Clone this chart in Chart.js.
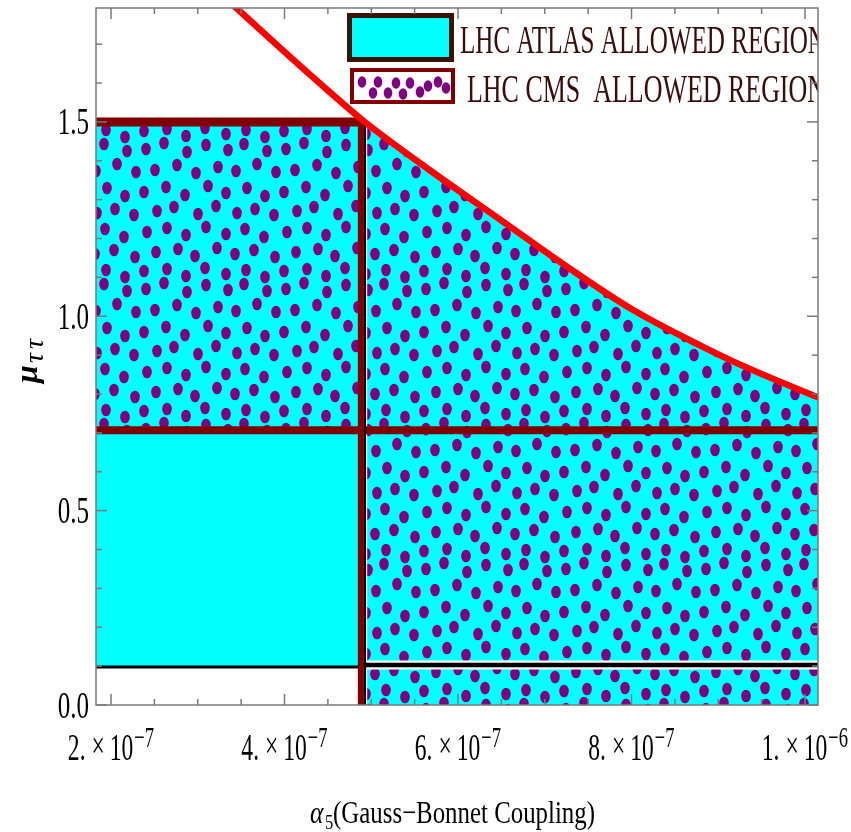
<!DOCTYPE html>
<html>
<head>
<meta charset="utf-8">
<script src="https://cdn.jsdelivr.net/npm/chart.js@4.4.0/dist/chart.umd.min.js"></script>
<style>
  html, body { margin: 0; padding: 0; background: #fff; }
  #wrap { position: relative; width: 851px; height: 832px; }
</style>
</head>
<body>
<div id="wrap"><canvas id="c"></canvas></div>
<script>
// axis ranges
var xMin = 1.827e-7, xMax = 1.015e-6;
var muMin = 0, muMax = 1.793;

// ticks
var xMajor = [2e-7, 4e-7, 6e-7, 8e-7, 1e-6];
var xMantissa = ['2.', '4.', '6.', '8.', '1.'];
var xExponent = ['\u22127', '\u22127', '\u22127', '\u22127', '\u22126'];
var xMinor = [2.5e-7, 3e-7, 3.5e-7, 4.5e-7, 5e-7, 5.5e-7, 6.5e-7, 7e-7, 7.5e-7, 8.5e-7, 9e-7, 9.5e-7];
var muMajor = [0, 0.5, 1.0, 1.5];
var muLabels = ['0.0', '0.5', '1.0', '1.5'];
var muMinor = [0.1, 0.2, 0.3, 0.4, 0.6, 0.7, 0.8, 0.9, 1.1, 1.2, 1.3, 1.4, 1.6, 1.7];

// region edges
var boundX = 4.88e-7;       // dark red edge of the left box
var boundBlackX = 4.926e-7; // black edge of the right region
var gapX = 4.943e-7;        // thin white gap
var atlasTop = 1.5;
var cmsLow = 0.707;
var lowCutLeft = 0.098;
var lowCutRight = 0.103;

// upper bound curve (red)
var curveX = [3.30e-7, 3.43e-7, 4.00e-7, 4.53e-7, 4.907e-7, 5.68e-7, 6.49e-7, 7.26e-7, 8.02e-7, 8.79e-7, 9.17e-7, 1.009e-6, 1.016e-6];
var curveMu = [1.823, 1.796, 1.680, 1.575, 1.503, 1.375, 1.248, 1.127, 1.016, 0.925, 0.884, 0.797, 0.791];

var legendText = ['LHC ATLAS ALLOWED REGION', 'LHC CMS  ALLOWED REGION'];

var CYAN = '#00ffff', PURPLE = '#800080', DARKRED = '#800000';

var curvePts = curveX.map(function (x, i) { return { x: x, y: curveMu[i] }; });
var rightPts = curvePts.filter(function (p) { return p.x >= boundX; });

// dotted texture for the CMS region (140px tile)
var dotSpots = [
    [6,9],[24,3],[47,12],[66,5],[88,10],[104,4],[127,11],
    [15,30],[37,25],[56,33],[78,27],[96,31],[117,24],[136,32],
    [4,52],[26,47],[45,55],[68,46],[86,53],[107,48],[125,56],
    [17,71],[34,67],[58,74],[76,66],[97,73],[115,69],[134,75],
    [7,92],[27,88],[46,95],[66,87],[86,94],[105,89],[124,97],
    [16,112],[38,109],[55,116],[77,108],[95,114],[114,110],[135,117],
    [4,131],[27,129],[46,136],[65,128],[86,134],[106,130],[125,137]
];
function makeDots() {
    var n = 140;
    var t = document.createElement('canvas');
    t.width = n; t.height = n;
    var g = t.getContext('2d');
    g.fillStyle = CYAN;
    g.fillRect(0, 0, n, n);
    g.fillStyle = PURPLE;
    dotSpots.forEach(function (d) {
        for (var ox = -n; ox <= n; ox += n)
            for (var oy = -n; oy <= n; oy += n) {
                g.beginPath();
                g.ellipse(d[0] + ox, d[1] + oy, 4.8, 6.3, 0, 0, Math.PI * 2);
                g.fill();
            }
    });
    return g.createPattern(t, 'repeat');
}
var dots = makeDots();

function seg(x0, y0, x1, y1) { return [{ x: x0, y: y0 }, { x: x1, y: y1 }]; }

// squashed serif text, like the original export
function sq(ctx, str, x, y, size, style, sx) {
    ctx.font = style + ' ' + size + 'px "Liberation Serif"';
    var w = ctx.measureText(str).width * sx;
    ctx.save();
    ctx.translate(x, y);
    ctx.scale(sx, 1);
    ctx.fillText(str, 0, 0);
    ctx.restore();
    return w;
}
function natural(ctx, str, size, style) {
    ctx.font = style + ' ' + size + 'px "Liberation Serif"';
    return ctx.measureText(str).width;
}

var framePlugin = {
    id: 'mmaFrame',
    afterDraw: function (chart) {
        var ctx = chart.ctx, a = chart.chartArea;
        var xs = chart.scales.x, ys = chart.scales.y;
        ctx.save();
        ctx.textAlign = 'left';
        ctx.textBaseline = 'alphabetic';

        // legend (clipped by the frame)
        ctx.save();
        ctx.beginPath();
        ctx.rect(a.left, a.top, a.right - a.left, a.bottom - a.top);
        ctx.clip();
        ctx.fillStyle = '#3b1306';
        ctx.fillRect(347, 13, 107, 49);
        ctx.fillStyle = CYAN;
        ctx.fillRect(352, 18, 97, 39);
        ctx.fillStyle = DARKRED;
        ctx.fillRect(350, 68, 105, 36);
        ctx.fillStyle = '#fff';
        ctx.fillRect(354, 72, 97, 28);
        ctx.fillStyle = PURPLE;
        [[362,82],[373,93],[378,82],[388,93],[396,83],[403,94],[410,83],[420,92],[428,86],[438,82],[446,88]].forEach(function (d) {
            ctx.beginPath();
            ctx.ellipse(d[0], d[1], 4.3, 5.8, 0, 0, Math.PI * 2);
            ctx.fill();
        });
        ctx.fillStyle = '#3a0c0c';
        var s1 = 366 / natural(ctx, legendText[0], 39, '');
        sq(ctx, legendText[0], 460, 53, 39, '', s1);
        var s2 = 359 / natural(ctx, legendText[1], 39, '');
        sq(ctx, legendText[1], 467, 102, 39, '', s2);
        ctx.restore();

        // frame and inward ticks
        ctx.strokeStyle = '#7a7a7a';
        ctx.lineWidth = 1.5;
        ctx.strokeRect(a.left, a.top, a.right - a.left, a.bottom - a.top);
        function line(x0, y0, x1, y1) {
            ctx.beginPath(); ctx.moveTo(x0, y0); ctx.lineTo(x1, y1); ctx.stroke();
        }
        function xt(v, len) {
            var px = xs.getPixelForValue(v);
            line(px, a.bottom, px, a.bottom - len);
            line(px, a.top, px, a.top + len);
        }
        function yt(v, len) {
            var py = ys.getPixelForValue(v);
            line(a.left, py, a.left + len, py);
            line(a.right, py, a.right - len, py);
        }
        xMajor.forEach(function (v) { xt(v, 11); });
        xMinor.forEach(function (v) { xt(v, 6); });
        muMajor.forEach(function (v) { yt(v, 11); });
        muMinor.forEach(function (v) { yt(v, 6); });

        // tick labels
        ctx.fillStyle = '#000';
        muMajor.forEach(function (v, i) {
            var py = ys.getPixelForValue(v);
            var w = natural(ctx, muLabels[i], 38, '') * 0.66;
            sq(ctx, muLabels[i], 89 - w, py + 12.5, 38, '', 0.66);
        });
        xMajor.forEach(function (v, i) {
            var px = xs.getPixelForValue(v);
            var sx = 0.62;
            var w1 = natural(ctx, xMantissa[i], 38, '') * sx;
            var w2 = natural(ctx, '\u00d7', 38, '') * sx;
            var w3 = natural(ctx, '10', 38, '') * sx;
            var w4 = natural(ctx, xExponent[i], 30, '') * sx;
            var total = w1 + 6 + w2 + 5 + w3 + 1 + w4;
            var x = px - total / 2;
            x += sq(ctx, xMantissa[i], x, 760, 38, '', sx) + 6;
            x += sq(ctx, '\u00d7', x, 758, 38, '', sx) + 5;
            x += sq(ctx, '10', x, 760, 38, '', sx) + 1;
            sq(ctx, xExponent[i], x, 747, 30, '', sx);
        });

        // x title
        sq(ctx, '\u03b1', 310, 823, 32, 'italic', 0.8);
        sq(ctx, '5', 325, 829, 22, '', 0.75);
        var t = '(Gauss\u2212Bonnet Coupling)';
        sq(ctx, t, 333, 823, 32, '', 262 / natural(ctx, t, 32, ''));

        // y title
        ctx.save();
        ctx.translate(37, 384);
        ctx.rotate(-Math.PI / 2);
        ctx.font = 'italic bold 32px "Liberation Serif"';
        ctx.fillText('\u03bc', 1, 0);
        ctx.font = 'italic 28px "Liberation Serif"';
        ctx.fillText('\u03c4', 21, 6);
        ctx.fillText('\u03c4', 35, 6);
        ctx.restore();

        ctx.restore();
    }
};

function edge(data, color, width, order) {
    return { data: data, borderColor: color, borderWidth: width, pointRadius: 0, fill: false, order: order };
}
function area(data, bg, fill, order) {
    return { data: data, borderColor: 'rgba(0,0,0,0)', borderWidth: 1, backgroundColor: bg, pointRadius: 0, fill: fill, order: order };
}

var curve = edge(curvePts, '#ff0000', 6.5, 0);
curve.cubicInterpolationMode = 'monotone';
curve.clip = 0;

var rightFill = area(rightPts, dots, 'origin', 20);
rightFill.cubicInterpolationMode = 'monotone';

new Chart(document.getElementById('c'), {
    type: 'line',
    data: {
        datasets: [
            curve,
            edge(seg(boundX, 0, boundX, atlasTop), DARKRED, 6, 1),
            edge(seg(boundBlackX, 0, boundBlackX, atlasTop), '#000', 2.5, 2),
            edge(seg(xMin, atlasTop, boundBlackX, atlasTop), DARKRED, 9, 3),
            edge(seg(xMin, cmsLow, xMax, cmsLow), DARKRED, 8, 4),
            edge(seg(xMin, lowCutLeft, boundX, lowCutLeft), '#000', 3, 5),
            edge(seg(boundX, lowCutRight, xMax, lowCutRight), '#000', 4.5, 6),
            edge(seg(boundX, lowCutRight, xMax, lowCutRight), '#fff', 9, 7),
            edge(seg(gapX, 0, gapX, atlasTop), '#fff', 1.8, 8),
            area(seg(xMin, atlasTop, boundX, atlasTop), dots, { value: cmsLow }, 10),
            area(seg(xMin, cmsLow, boundX, cmsLow), CYAN, { value: lowCutLeft }, 11),
            rightFill
        ]
    },
    options: {
        responsive: true,
        maintainAspectRatio: false,
        animation: false,
        layout: { padding: { left: 96, top: 8, right: 33, bottom: 127 } },
        scales: {
            x: { type: 'linear', min: xMin, max: xMax, display: false },
            y: { type: 'linear', min: muMin, max: muMax, display: false }
        },
        plugins: { legend: { display: false }, tooltip: { enabled: false } }
    },
    plugins: [framePlugin]
});
</script>
</body>
</html>
